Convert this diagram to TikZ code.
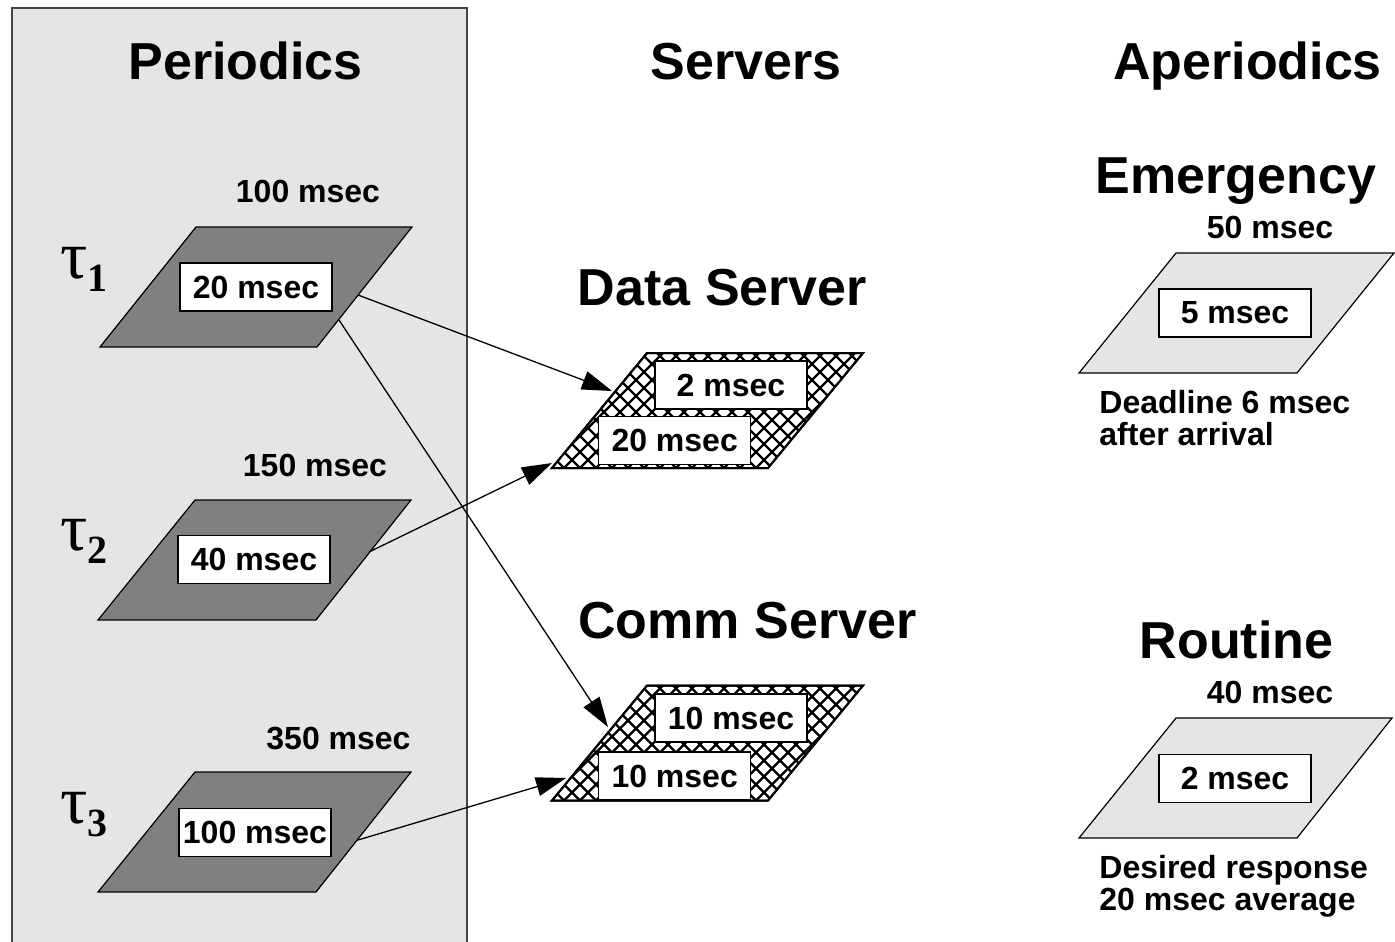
\documentclass[tikz,border=0pt]{standalone}
\usepackage{fontspec}
\setmainfont{Liberation Sans}
\newfontfamily\taufont{Liberation Serif}
\usetikzlibrary{arrows.meta}
\definecolor{panelgray}{HTML}{E5E5E5}
\definecolor{darkfill}{HTML}{808080}
\definecolor{panelborder}{HTML}{444444}
\tikzset{
  title/.style={font=\fontsize{26}{30}\selectfont\bfseries, anchor=base, inner sep=0pt},
  lbl/.style={font=\fontsize{16}{18}\selectfont\bfseries, anchor=base, inner sep=0pt},
  note/.style={font=\fontsize{16}{18}\selectfont\bfseries, anchor=base west, inner sep=0pt},
  timebox/.style={draw=black, line width=0.6pt, fill=white, minimum width=76pt,
    minimum height=24pt, inner sep=0pt, font=\fontsize{16}{18}\selectfont\bfseries},
  periodic/.style={draw=black, line width=0.6pt, fill=darkfill},
  aperiodic/.style={draw=black, line width=0.6pt, fill=panelgray},
  serverpara/.style={draw=black, line width=1pt, fill=white},
  hatchline/.style={line width=1.2pt, black},
  link/.style={line width=0.65pt, -{Triangle[length=15pt,width=9.5pt]}},
  taulbl/.style={font=\taufont\fontsize{34}{36}\selectfont, anchor=base west, inner sep=0pt},
}
\newcommand{\tausub}[1]{\raisebox{-6.5pt}{\fontsize{20}{20}\selectfont\bfseries #1}}
\begin{document}
\begin{tikzpicture}[x=0.5pt,y=-0.5pt]
\useasboundingbox (0,0) rectangle (1395,941);
% periodics panel
\fill[panelgray] (12,8) rectangle (467,945);
\draw[panelborder, line width=1pt] (12,945) -- (12,8) -- (467,8) -- (467,945);

% titles
\node[title] (tPer) at (245.5,80) {Periodics};
\node[title] (tSrv) at (746,80) {Servers};
\node[title] (tAper) at (1247.5,80) {Aperiodics};

% periodic tasks
\draw[periodic] (100,347) -- (317,347) -- (412,227) -- (196,227) -- cycle;
\draw[periodic] (98,620) -- (316,620) -- (411,500) -- (195,500) -- cycle;
\draw[periodic] (98,892) -- (316,892) -- (411,772) -- (195,772) -- cycle;
\node[timebox] (p1) at (256,287) {20 msec};
\node[timebox] (p2) at (254,559.5) {40 msec};
\node[timebox] (p3) at (255,832.5) {100 msec};
\node[lbl] (per1) at (308,203) {100 msec};
\node[lbl] (per2) at (315,476) {150 msec};
\node[lbl] (per3) at (338.5,749) {350 msec};
\node[taulbl] (tau1) at (60,278) {τ\tausub{1}};
\node[taulbl] (tau2) at (60,550) {τ\tausub{2}};
\node[taulbl] (tau3) at (60,823) {τ\tausub{3}};

% servers
\node[title] (tData) at (722.5,305) {Data Server};
\node[title] (tComm) at (747.5,638) {Comm Server};
\foreach \yo in {0,332.5}{
  \begin{scope}[yshift=-\yo*0.5pt]
    \draw[serverpara] (552,468) -- (768,468) -- (863,353) -- (647,353) -- cycle;
    \begin{scope}
      \clip (552,468) -- (768,468) -- (863,353) -- (647,353) -- cycle;
      \foreach \i in {420,436,...,1000}{
        \draw[hatchline] (\i,340) -- (\i+140,480);
        \draw[hatchline] (\i,340) -- (\i-140,480);
      }
    \end{scope}
    \draw[black, line width=1pt] (552,468) -- (768,468) -- (863,353) -- (647,353) -- cycle;
  \end{scope}
}
\node[timebox] (d1) at (731,385) {2 msec};
\node[timebox] (d2) at (674.7,440.7) {20 msec};
\node[timebox] (c1) at (731,718) {10 msec};
\node[timebox] (c2) at (674.7,776) {10 msec};

% aperiodics
\node[title] (tEm) at (1236,194) {Emergency};
\node[lbl] (em) at (1270,238) {50 msec};
\draw[aperiodic] (1079,373) -- (1297,373) -- (1394,253) -- (1176,253) -- cycle;
\node[timebox] (e1) at (1235,313) {5 msec};
\node[note] (dl1) at (1099,413) {Deadline 6 msec};
\node[note] (dl2) at (1099,445) {after arrival};

\node[title] (tRt) at (1236.5,658) {Routine};
\node[lbl] (rt) at (1270,703) {40 msec};
\draw[aperiodic] (1079,838) -- (1297,838) -- (1392,718) -- (1176,718) -- cycle;
\node[timebox] (r1) at (1235,778.3) {2 msec};
\node[note] (dr1) at (1099,878) {Desired response};
\node[note] (dr2) at (1099,910) {20 msec average};

% connectors
\coordinate (s1a) at (358,295);
\coordinate (s1b) at (339,320);
\coordinate (s2) at (369,552);
\coordinate (s3) at (358,840);
\coordinate (dIn1) at (612,391);
\coordinate (dIn2) at (552,463);
\coordinate (cIn1) at (608,727);
\coordinate (cIn2) at (566,778);
\draw[link] (s1a) -- (dIn1);
\draw[link] (s1b) -- (cIn1);
\draw[link] (s2) -- (dIn2);
\draw[link] (s3) -- (cIn2);
\end{tikzpicture}
\end{document}
